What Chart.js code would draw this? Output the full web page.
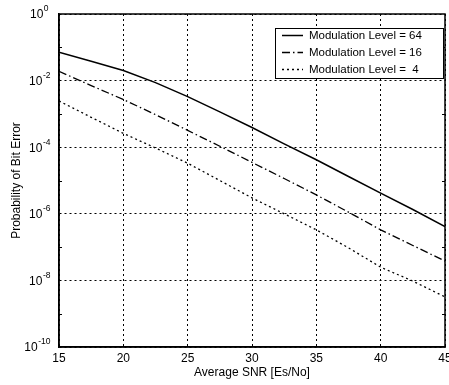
<!DOCTYPE html>
<html>
<head>
<meta charset="utf-8">
<script src="https://cdn.jsdelivr.net/npm/chart.js@4/dist/chart.umd.min.js"></script>
<style>
  html, body { margin: 0; padding: 0; background: #fff; }
  #wrap { width: 449px; height: 385px; position: relative; }
</style>
</head>
<body>
<div id="wrap"><canvas id="c" width="449" height="385"></canvas></div>
<script>
// ---- data ----
const snr = [15, 17.5, 20, 22.5, 25, 27.5, 30, 32.5, 35, 37.5, 40, 42.5, 45];
const berM64 = [7.1e-2, 3.8e-2, 2.0e-2, 8.7e-3, 3.3e-3, 1.15e-3, 3.9e-4, 1.26e-4, 4.2e-5, 1.32e-5, 4.2e-6, 1.35e-6, 4.1e-7];
const berM16 = [1.9e-2, 7.1e-3, 2.7e-3, 9.5e-4, 3.2e-4, 1.07e-4, 3.5e-5, 1.15e-5, 3.7e-6, 1.12e-6, 3.3e-7, 1.12e-7, 3.8e-8];
const berM4  = [2.45e-3, 7.9e-4, 2.6e-4, 9.5e-5, 3.3e-5, 1.0e-5, 3.0e-6, 1.0e-6, 3.3e-7, 9.5e-8, 2.5e-8, 9.5e-9, 3.2e-9];
const seriesLabels = ['Modulation Level = 64', 'Modulation Level = 16', 'Modulation Level =  4'];
const xTicks = [15, 20, 25, 30, 35, 40, 45];
const yTickExponents = [0, -2, -4, -6, -8, -10];
const yMinorExponents = [-1, -3, -5, -7, -9];
const xTitle = 'Average SNR [Es/No]';
const yTitle = 'Probability of Bit Error';

const FONT = '"Liberation Sans", Arial, Helvetica, sans-serif';
const dashes = [[], [8, 3, 1.5, 3], [2, 3]];

function toPts(ys) { return snr.map((x, i) => ({ x: x, y: ys[i] })); }

const plotDecor = {
  id: 'plotDecor',
  afterDraw(chart) {
    const ctx = chart.ctx;
    const a = chart.chartArea;
    const ys = chart.scales.y;
    ctx.save();
    // box
    ctx.strokeStyle = '#000';
    ctx.lineWidth = 1.5;
    ctx.setLineDash([]);
    ctx.strokeRect(a.left, a.top, a.right - a.left, a.bottom - a.top);
    // minor ticks
    ctx.lineWidth = 1;
    yMinorExponents.forEach(e => {
      const py = Math.round(ys.getPixelForValue(Math.pow(10, e))) + 0.5;
      ctx.beginPath();
      ctx.moveTo(a.left, py); ctx.lineTo(a.left + 3, py);
      ctx.moveTo(a.right, py); ctx.lineTo(a.right - 3, py);
      ctx.stroke();
    });
    // y tick labels with superscripts
    ctx.fillStyle = '#000';
    ctx.textBaseline = 'middle';
    ctx.textAlign = 'left';
    yTickExponents.forEach(e => {
      const py = ys.getPixelForValue(Math.pow(10, e));
      const base = '10';
      const exp = String(e);
      ctx.font = '12px ' + FONT;
      const bw = ctx.measureText(base).width;
      ctx.font = '8.5px ' + FONT;
      const ew = ctx.measureText(exp).width;
      const right = 51;
      const x0 = Math.min(30, right - bw - ew - 1);
      ctx.font = '12px ' + FONT;
      ctx.fillText(base, x0, py + 1);
      ctx.font = '8.5px ' + FONT;
      ctx.fillText(exp, x0 + bw + 0.5, py - 5);
    });
    // legend
    const lx = 275, ly = 28, lw = 168, lh = 50;
    ctx.fillStyle = '#fff';
    ctx.fillRect(lx, ly, lw, lh);
    ctx.strokeStyle = '#000';
    ctx.lineWidth = 1;
    ctx.strokeRect(lx + 0.5, ly + 0.5, lw, lh);
    const rows = [35.5, 52.5, 69.5];
    chart.data.datasets.forEach((ds, i) => {
      ctx.setLineDash(ds.borderDash || []);
      ctx.lineWidth = ds.borderWidth;
      ctx.beginPath();
      ctx.moveTo(282, rows[i]);
      ctx.lineTo(303, rows[i]);
      ctx.stroke();
      ctx.setLineDash([]);
      ctx.fillStyle = '#000';
      ctx.font = '11.5px ' + FONT;
      ctx.textBaseline = 'middle';
      ctx.fillText(ds.label, 309, rows[i] + 0.5);
    });
    ctx.restore();
  }
};

new Chart(document.getElementById('c'), {
  type: 'line',
  data: {
    datasets: [
      { label: seriesLabels[0], data: toPts(berM64), borderColor: '#000', borderWidth: 1.5, borderDash: dashes[0], pointRadius: 0, tension: 0, fill: false },
      { label: seriesLabels[1], data: toPts(berM16), borderColor: '#000', borderWidth: 1.3, borderDash: dashes[1], pointRadius: 0, tension: 0, fill: false },
      { label: seriesLabels[2], data: toPts(berM4),  borderColor: '#000', borderWidth: 1.3, borderDash: dashes[2], pointRadius: 0, tension: 0, fill: false }
    ]
  },
  options: {
    responsive: false,
    animation: false,
    events: [],
    layout: { padding: { top: 14, right: 4, left: 0, bottom: 0 } },
    plugins: { legend: { display: false }, tooltip: { enabled: false } },
    scales: {
      x: {
        type: 'linear',
        min: 15, max: 45,
        afterBuildTicks: s => { s.ticks = xTicks.map(v => ({ value: v })); },
        afterFit: s => { s.height = 38; s.paddingLeft = 0; s.paddingRight = 0; },
        ticks: { color: '#000', font: { family: FONT, size: 12 }, padding: 4, maxRotation: 0, autoSkip: false },
        grid: { color: '#000', lineWidth: 1, drawTicks: false },
        border: { display: true, color: '#000', width: 1.5, dash: [2, 3] },
        title: { display: true, text: xTitle, color: '#000', font: { family: FONT, size: 12 }, padding: { top: 0, bottom: 5 } }
      },
      y: {
        type: 'logarithmic',
        min: 1e-10, max: 1,
        afterBuildTicks: s => { s.ticks = yTickExponents.map(e => ({ value: Math.pow(10, e) })); },
        afterFit: s => { s.width = 59; s.paddingTop = 0; s.paddingBottom = 0; },
        ticks: { display: false },
        grid: { color: '#000', lineWidth: 1, drawTicks: false },
        border: { display: true, color: '#000', width: 1.5, dash: [2, 3] },
        title: { display: true, text: yTitle, color: '#000', font: { family: FONT, size: 12 }, padding: { top: 9, bottom: 0 } }
      }
    }
  },
  plugins: [plotDecor]
});
</script>
</body>
</html>
